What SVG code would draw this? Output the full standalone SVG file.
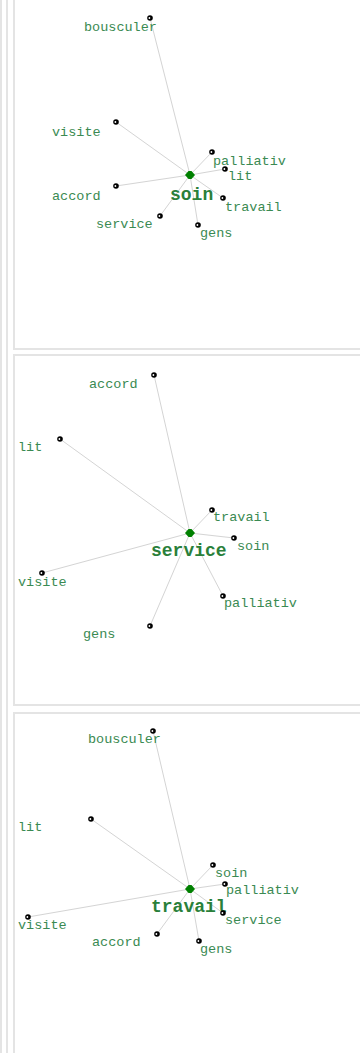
<svg xmlns="http://www.w3.org/2000/svg" width="360" height="1053" viewBox="0 0 360 1053">
<defs>
<style>
.frame{fill:none;stroke:#e4e4e4;stroke-width:2}
.edge{stroke:#d4d4d4;stroke-width:1;fill:none}
.lbl{font-family:"Liberation Mono","Courier New",monospace;font-size:13.5px;fill:#3a8a52}
.hub{font-family:"Liberation Mono","Courier New",monospace;font-size:18px;font-weight:bold;fill:#2a7f3a}
.dot{fill:#000}
.hl{fill:#fff}
.ctr{fill:#008000}
</style>
<symbol id="d" overflow="visible"><circle class="dot" cx="0" cy="0" r="2.8"/><circle class="hl" cx="-0.6" cy="0" r="0.9"/></symbol>
<symbol id="c" overflow="visible"><path class="ctr" d="M-5,0 L-1.5,-4 L1.5,-4 L5,0 L1.5,4 L-1.5,4 Z"/></symbol>
</defs>
<rect width="360" height="1053" fill="#fff"/>
<g id="frames">
<line class="frame" x1="1" y1="0" x2="1" y2="1053"/>
<line class="frame" x1="7" y1="0" x2="7" y2="1053"/>
<rect class="frame" x="14" y="-10" width="360" height="359"/>
<rect class="frame" x="14" y="355" width="360" height="350"/>
<rect class="frame" x="14" y="713" width="360" height="360"/>
</g>
<g id="connectors">
<line class="edge" x1="190" y1="175" x2="150" y2="18"/>
<line class="edge" x1="190" y1="175" x2="116" y2="122"/>
<line class="edge" x1="190" y1="175" x2="212" y2="152"/>
<line class="edge" x1="190" y1="175" x2="225" y2="169"/>
<line class="edge" x1="190" y1="175" x2="116" y2="186"/>
<line class="edge" x1="190" y1="175" x2="223" y2="198"/>
<line class="edge" x1="190" y1="175" x2="160" y2="216"/>
<line class="edge" x1="190" y1="175" x2="198" y2="225"/>
<line class="edge" x1="190" y1="533" x2="154" y2="375"/>
<line class="edge" x1="190" y1="533" x2="60" y2="439"/>
<line class="edge" x1="190" y1="533" x2="212" y2="510"/>
<line class="edge" x1="190" y1="533" x2="234" y2="538"/>
<line class="edge" x1="190" y1="533" x2="42" y2="573"/>
<line class="edge" x1="190" y1="533" x2="223" y2="596"/>
<line class="edge" x1="190" y1="533" x2="150" y2="626"/>
<line class="edge" x1="190" y1="889" x2="153" y2="731"/>
<line class="edge" x1="190" y1="889" x2="91" y2="819"/>
<line class="edge" x1="190" y1="889" x2="213" y2="865"/>
<line class="edge" x1="190" y1="889" x2="225" y2="884"/>
<line class="edge" x1="190" y1="889" x2="223" y2="913"/>
<line class="edge" x1="190" y1="889" x2="28" y2="917"/>
<line class="edge" x1="190" y1="889" x2="157" y2="934"/>
<line class="edge" x1="190" y1="889" x2="199" y2="941"/>
</g>
<g id="soin-graph">
<g id="p1-soin"><use href="#c" x="190" y="175"/><text class="hub" x="170" y="200">soin</text></g>
<g id="p1-bousculer"><use href="#d" x="150" y="18"/><text class="lbl" x="84" y="31">bousculer</text></g>
<g id="p1-visite"><use href="#d" x="116" y="122"/><text class="lbl" x="52" y="136">visite</text></g>
<g id="p1-palliativ"><use href="#d" x="212" y="152"/><text class="lbl" x="213" y="165">palliativ</text></g>
<g id="p1-lit"><use href="#d" x="225" y="169"/><text class="lbl" x="228" y="180">lit</text></g>
<g id="p1-accord"><use href="#d" x="116" y="186"/><text class="lbl" x="52" y="200">accord</text></g>
<g id="p1-travail"><use href="#d" x="223" y="198"/><text class="lbl" x="225" y="211">travail</text></g>
<g id="p1-service"><use href="#d" x="160" y="216"/><text class="lbl" x="96" y="228">service</text></g>
<g id="p1-gens"><use href="#d" x="198" y="225"/><text class="lbl" x="200" y="237">gens</text></g>
</g>
<g id="service-graph">
<g id="p2-service"><use href="#c" x="190" y="533"/><text class="hub" x="151" y="556">service</text></g>
<g id="p2-accord"><use href="#d" x="154" y="375"/><text class="lbl" x="89" y="388">accord</text></g>
<g id="p2-lit"><use href="#d" x="60" y="439"/><text class="lbl" x="18" y="451">lit</text></g>
<g id="p2-travail"><use href="#d" x="212" y="510"/><text class="lbl" x="213" y="521">travail</text></g>
<g id="p2-soin"><use href="#d" x="234" y="538"/><text class="lbl" x="237" y="550">soin</text></g>
<g id="p2-visite"><use href="#d" x="42" y="573"/><text class="lbl" x="18" y="586">visite</text></g>
<g id="p2-palliativ"><use href="#d" x="223" y="596"/><text class="lbl" x="224" y="607">palliativ</text></g>
<g id="p2-gens"><use href="#d" x="150" y="626"/><text class="lbl" x="83" y="638">gens</text></g>
</g>
<g id="travail-graph">
<g id="p3-travail"><use href="#c" x="190" y="889"/><text class="hub" x="151" y="912">travail</text></g>
<g id="p3-bousculer"><use href="#d" x="153" y="731"/><text class="lbl" x="88" y="743">bousculer</text></g>
<g id="p3-lit"><use href="#d" x="91" y="819"/><text class="lbl" x="18" y="831">lit</text></g>
<g id="p3-soin"><use href="#d" x="213" y="865"/><text class="lbl" x="215" y="877">soin</text></g>
<g id="p3-palliativ"><use href="#d" x="225" y="884"/><text class="lbl" x="226" y="894">palliativ</text></g>
<g id="p3-service"><use href="#d" x="223" y="913"/><text class="lbl" x="225" y="924">service</text></g>
<g id="p3-visite"><use href="#d" x="28" y="917"/><text class="lbl" x="18" y="929">visite</text></g>
<g id="p3-accord"><use href="#d" x="157" y="934"/><text class="lbl" x="92" y="946">accord</text></g>
<g id="p3-gens"><use href="#d" x="199" y="941"/><text class="lbl" x="200" y="953">gens</text></g>
</g>
</svg>
